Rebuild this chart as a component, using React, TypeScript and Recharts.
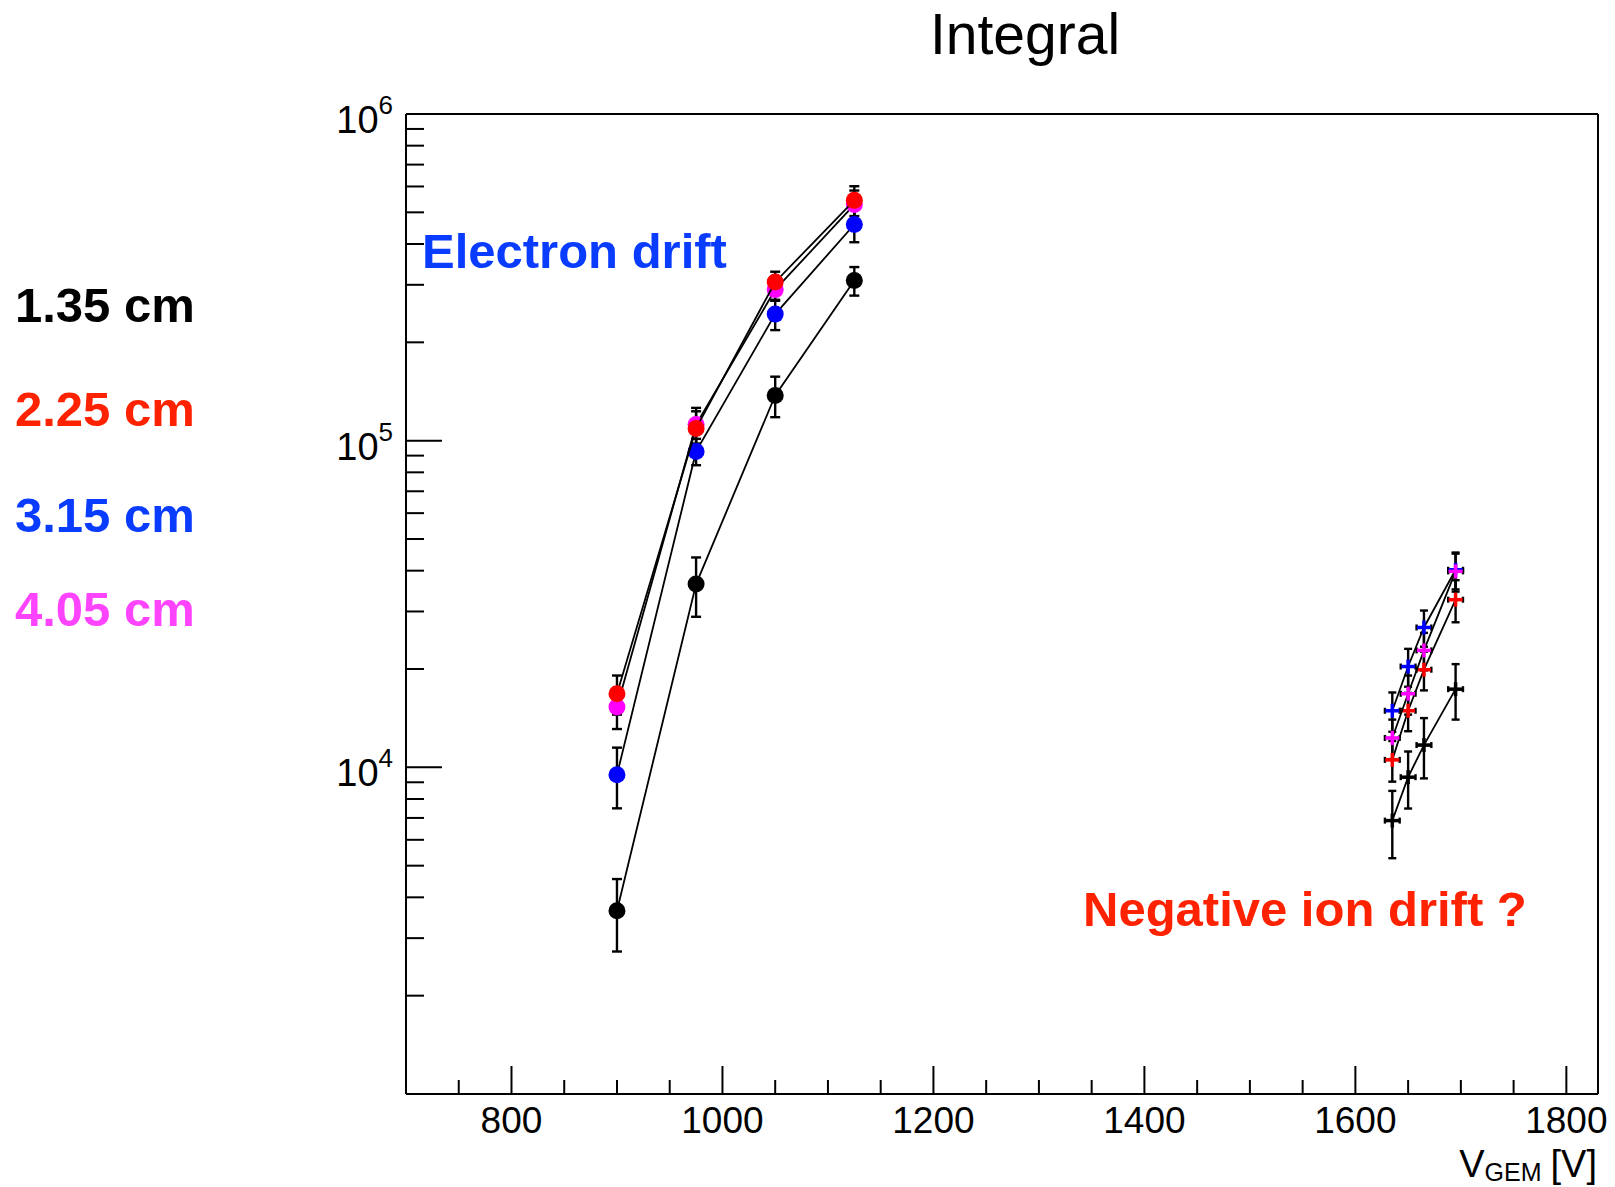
import { ScatterChart, Scatter, XAxis, YAxis, ErrorBar, ReferenceLine } from "recharts";

const FONT = "'Liberation Sans', Arial, Helvetica, sans-serif";

// electron drift points (V_GEM)
const eVolts = [900, 975, 1050, 1125];
const e135 = [3640, 36400, 137500, 309000];
const e135Err = [910, 7500, 19500, 31000];
const e225 = [16800, 109000, 306000, 544000];
const e225Err = [2300, 14000, 23000, 57000];
const e315 = [9490, 92700, 244000, 459000];
const e315Err = [2000, 8600, 26000, 54000];
const e405 = [15300, 112000, 290000, 528000];
const e405Err = [2200, 14000, 22000, 55000];

// negative ion drift points
const iVolts = [1635, 1650, 1665, 1695];
const iVoltErr = 7;
const i135 = [6870, 9330, 11700, 17350];
const i135Err = [1600, 1850, 2450, 3350];
const i225 = [10540, 14900, 19900, 32600];
const i225Err = [1500, 2000, 2700, 4800];
const i315 = [14900, 20350, 26800, 40250];
const i315Err = [2050, 2700, 3400, 5200];
const i405 = [12300, 16800, 22800, 39800];
const i405Err = [1700, 2300, 3000, 5300];

const xTicks = [750, 800, 850, 900, 950, 1000, 1050, 1100, 1150, 1200, 1250, 1300, 1350, 1400, 1450, 1500, 1550, 1600, 1650, 1700, 1750, 1800];
const yTicks = [
  1000, 2000, 3000, 4000, 5000, 6000, 7000, 8000, 9000,
  10000, 20000, 30000, 40000, 50000, 60000, 70000, 80000, 90000,
  100000, 200000, 300000, 400000, 500000, 600000, 700000, 800000, 900000,
  1000000,
];

const distances = [
  { label: "1.35 cm", color: "#000000", y: 322 },
  { label: "2.25 cm", color: "#ff2200", y: 426 },
  { label: "3.15 cm", color: "#0a3cff", y: 532 },
  { label: "4.05 cm", color: "#ff44ff", y: 626 },
];

const mk = (xs: number[], ys: number[], errs: number[], xerr = 0) =>
  xs.map((x, i) => ({ x, y: ys[i], ey: errs[i], ex: xerr }));

const XTick = (props: any) => {
  const { x, y, payload } = props;
  const v = payload.value;
  const major = v % 200 === 0;
  return (
    <g>
      <line x1={x} x2={x} y1={y} y2={y - (major ? 28 : 14)} stroke="#000" strokeWidth={2} />
      {major && (
        <text x={x} y={y + 39} textAnchor="middle" fontSize={37} fontFamily={FONT} fill="#000">
          {v}
        </text>
      )}
    </g>
  );
};

const YTick = (props: any) => {
  const { x, y, payload } = props;
  const lg = Math.log10(payload.value);
  const exp = Math.round(lg);
  const major = Math.abs(lg - exp) < 1e-6;
  return (
    <g>
      <line x1={x} x2={x + (major ? 36 : 18)} y1={y} y2={y} stroke="#000" strokeWidth={2} />
      {major && exp >= 4 && (
        <text x={x - 13} y={y + 19} textAnchor="end" fontSize={38} fontFamily={FONT} fill="#000">
          10
          <tspan dy={-19} fontSize={26}>
            {exp}
          </tspan>
        </text>
      )}
    </g>
  );
};

const Dot = (color: string) => (p: any) => (
  <circle cx={p.cx} cy={p.cy} r={8.5} fill={color} />
);

const Plus = (color: string) => (p: any) => (
  <g stroke={color} strokeWidth={3.5}>
    <line x1={p.cx - 7} x2={p.cx + 7} y1={p.cy} y2={p.cy} />
    <line x1={p.cx} x2={p.cx} y1={p.cy - 7} y2={p.cy + 7} />
  </g>
);

const lineStyle = { stroke: "#000", strokeWidth: 1.8 };

export default function App() {
  const electron = [
    { data: mk(eVolts, e135, e135Err), color: "#000000" },
    { data: mk(eVolts, e315, e315Err), color: "#0000ff" },
    { data: mk(eVolts, e405, e405Err), color: "#ff00ff" },
    { data: mk(eVolts, e225, e225Err), color: "#ff0000" },
  ];
  const ion = [
    { data: mk(iVolts, i135, i135Err, iVoltErr), color: "#000000" },
    { data: mk(iVolts, i225, i225Err, iVoltErr), color: "#ff0000" },
    { data: mk(iVolts, i315, i315Err, iVoltErr), color: "#0000ff" },
    { data: mk(iVolts, i405, i405Err, iVoltErr), color: "#ff00ff" },
  ];

  return (
    <div style={{ position: "absolute", left: 0, top: 0, width: 1615, height: 1187, background: "#fff" }}>
      <ScatterChart width={1615} height={1187} margin={{ top: 114, right: 17, bottom: 0, left: 0 }}>
        <XAxis
          type="number"
          dataKey="x"
          domain={[700, 1830]}
          ticks={xTicks}
          interval={0}
          height={93}
          tickSize={0}
          tickMargin={0}
          tickLine={false}
          tick={<XTick />}
          axisLine={{ stroke: "#000", strokeWidth: 2 }}
          allowDataOverflow
        />
        <YAxis
          type="number"
          dataKey="y"
          scale="log"
          domain={[1000, 1000000]}
          ticks={yTicks}
          interval={0}
          width={406}
          tickSize={0}
          tickMargin={0}
          tickLine={false}
          tick={<YTick />}
          axisLine={{ stroke: "#000", strokeWidth: 2 }}
          allowDataOverflow
        />
        <ReferenceLine y={1000000} stroke="#000" strokeWidth={2} />
        <ReferenceLine x={1830} stroke="#000" strokeWidth={2} />
        {electron.map((s, i) => (
          <Scatter
            key={"e" + i}
            data={s.data}
            line={lineStyle}
            shape={Dot(s.color)}
            isAnimationActive={false}
          >
            <ErrorBar dataKey="ey" direction="y" width={5} stroke="#000" strokeWidth={2.4} />
          </Scatter>
        ))}
        {ion.map((s, i) => (
          <Scatter
            key={"i" + i}
            data={s.data}
            line={lineStyle}
            shape={Plus(s.color)}
            isAnimationActive={false}
          >
            <ErrorBar dataKey="ey" direction="y" width={4} stroke="#000" strokeWidth={2.4} />
            <ErrorBar dataKey="ex" direction="x" width={3} stroke="#000" strokeWidth={2.4} />
          </Scatter>
        ))}
      </ScatterChart>
      <svg
        width={1615}
        height={1187}
        style={{ position: "absolute", left: 0, top: 0, pointerEvents: "none" }}
      >
        <text x={1025} y={54} textAnchor="middle" fontSize={57} fontFamily={FONT} fill="#000">
          Integral
        </text>
        {distances.map((d) => (
          <text key={d.label} x={15} y={d.y} fontSize={49} fontWeight="bold" fontFamily={FONT} fill={d.color}>
            {d.label}
          </text>
        ))}
        <text x={422} y={268} fontSize={49} fontWeight="bold" fontFamily={FONT} fill="#0a3cff">
          Electron drift
        </text>
        <text x={1083} y={926} fontSize={49} fontWeight="bold" fontFamily={FONT} fill="#ff2200">
          Negative ion drift ?
        </text>
        <text x={1597} y={1177} textAnchor="end" fontSize={38} fontFamily={FONT} fill="#000">
          V
          <tspan dy={4} fontSize={25}>
            GEM
          </tspan>
          <tspan dy={-4} dx={9} fontSize={38}>
            [V]
          </tspan>
        </text>
      </svg>
    </div>
  );
}
